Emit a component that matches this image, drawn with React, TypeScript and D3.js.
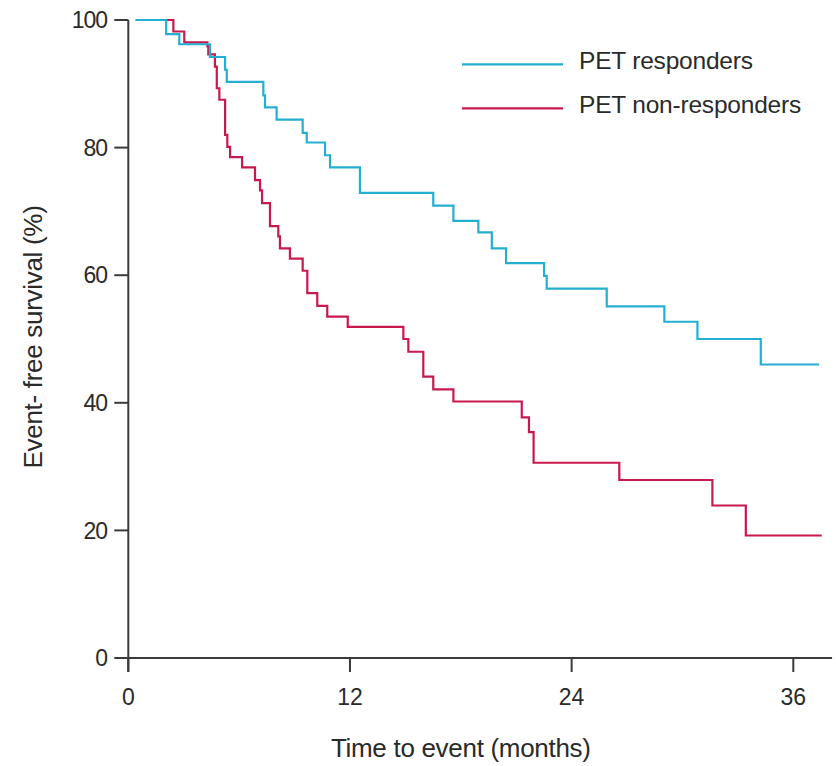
import React from "react";
import * as d3 from "d3";

const xTicks = [0, 12, 24, 36];
const yTicks = [0, 20, 40, 60, 80, 100];

const respTime = [0.4, 2.05, 2.76, 4.42, 5.24, 5.33, 7.31, 7.4, 8.03, 9.44, 9.66, 10.65, 10.92, 12.54, 16.51, 17.6, 18.95, 19.68, 20.45, 22.51, 22.65, 25.9, 29.02, 30.81, 34.24, 37.4];
const respSurv = [100, 97.8, 96.2, 94.2, 92.2, 90.3, 88.2, 86.3, 84.4, 82.3, 80.8, 78.8, 76.9, 72.9, 70.9, 68.5, 66.7, 64.2, 61.9, 59.9, 57.9, 55.1, 52.7, 50.0, 46.0, 46.0];

const nonTime = [0.4, 2.44, 3.03, 4.28, 4.33, 4.69, 4.79, 4.93, 5.24, 5.36, 5.51, 6.16, 6.86, 7.13, 7.24, 7.67, 8.12, 8.21, 8.75, 9.44, 9.69, 10.23, 10.77, 11.88, 14.89, 15.16, 15.97, 16.51, 17.6, 21.3, 21.69, 21.94, 26.58, 31.62, 33.43, 37.54];
const nonSurv = [100, 98.2, 96.5, 95.9, 94.6, 92.7, 89.3, 87.5, 82.0, 80.1, 78.5, 76.9, 74.9, 73.3, 71.3, 67.7, 66.1, 64.2, 62.6, 60.7, 57.2, 55.2, 53.5, 51.9, 50.0, 48.0, 44.1, 42.1, 40.2, 37.7, 35.4, 30.6, 27.9, 23.9, 19.2, 19.2];

const seriesNames = ["PET responders", "PET non-responders"];
const seriesColors = ["#24AFD2", "#C8194C"];

const xTitle = "Time to event (months)";
const yTitle = "Event- free survival (%)";

export default function App() {
  const W = 836, H = 766;
  const x = d3.scaleLinear().domain([0, 36]).range([128.3, 793.3]);
  const y = d3.scaleLinear().domain([0, 100]).range([658, 20]);
  const line = d3
    .line<[number, number]>()
    .x((d) => x(d[0]))
    .y((d) => y(d[1]))
    .curve(d3.curveStepAfter);
  const resp: [number, number][] = respTime.map((t, i) => [t, respSurv[i]]);
  const non: [number, number][] = nonTime.map((t, i) => [t, nonSurv[i]]);
  const font = "'Liberation Sans', Arial, sans-serif";
  const axisColor = "#3a3a3a";
  const textColor = "#2a2a2a";
  const xEnd = x(38.1);

  return (
    <svg
      width={W}
      height={H}
      style={{ position: "absolute", left: 0, top: 0, background: "#fff" }}
      fontFamily={font}
    >
      {/* curves */}
      <path d={line(non) || ""} fill="none" stroke={seriesColors[1]} strokeWidth={2.2} />
      <path d={line(resp) || ""} fill="none" stroke={seriesColors[0]} strokeWidth={2.2} />

      {/* axes */}
      <line x1={x(0)} x2={xEnd} y1={y(0)} y2={y(0)} stroke={axisColor} strokeWidth={2} />
      <line x1={x(0)} x2={x(0)} y1={y(100)} y2={y(0) + 14} stroke={axisColor} strokeWidth={2} />
      {xTicks.map((t) => (
        <g key={"xt" + t}>
          <line x1={x(t)} x2={x(t)} y1={y(0)} y2={y(0) + 14} stroke={axisColor} strokeWidth={2} />
          <text x={x(t)} y={705} textAnchor="middle" fontSize={23} fill={textColor}>
            {t}
          </text>
        </g>
      ))}
      {yTicks.map((v) => (
        <g key={"yt" + v}>
          <line x1={x(0) - 14} x2={x(0)} y1={y(v)} y2={y(v)} stroke={axisColor} strokeWidth={2} />
          <text x={107} y={y(v)} dy="0.36em" textAnchor="end" fontSize={23} fill={textColor} letterSpacing={-1}>
            {v}
          </text>
        </g>
      ))}
      <text x={(x(0) + x(36)) / 2} y={757} textAnchor="middle" fontSize={26} fill={textColor} letterSpacing={-0.3}>
        {xTitle}
      </text>
      <text
        transform={`translate(42, ${(y(0) + y(100)) / 2 - 2}) rotate(-90)`}
        textAnchor="middle"
        fontSize={26}
        fill={textColor}
        letterSpacing={-0.3}
      >
        {yTitle}
      </text>

      {/* legend */}
      {seriesNames.map((name, i) => (
        <g key={name}>
          <line x1={462} x2={563} y1={64.3 + i * 44} y2={64.3 + i * 44} stroke={seriesColors[i]} strokeWidth={2.2} />
          <text x={579} y={69 + i * 43.5} fontSize={24.5} fill={textColor} letterSpacing={-0.2}>
            {name}
          </text>
        </g>
      ))}
    </svg>
  );
}
